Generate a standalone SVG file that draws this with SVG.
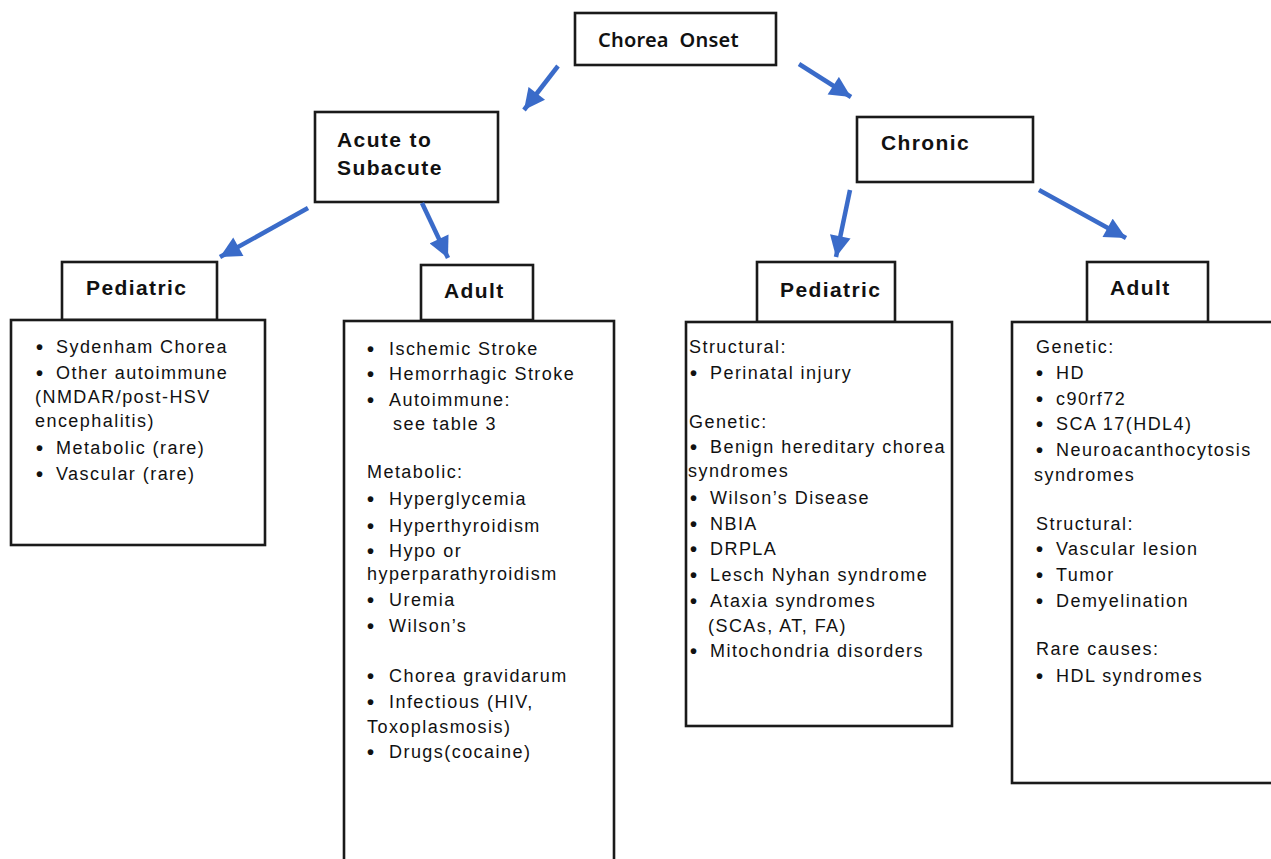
<svg xmlns="http://www.w3.org/2000/svg" width="1271" height="859" viewBox="0 0 1271 859">
<style>
.box{fill:#fff;stroke:#1a1a1a;stroke-width:2.6}
.hd{font-family:"Liberation Sans",Arial,sans-serif;font-weight:bold;font-size:21px;letter-spacing:1.4px;fill:#111}
.tx{font-family:"Liberation Sans",Arial,sans-serif;font-size:18px;letter-spacing:1.45px;fill:#111}
.bl{font-family:"Liberation Sans",Arial,sans-serif;font-size:20px;font-weight:bold;fill:#111}
.top{font-family:"Noto Sans","Liberation Sans",sans-serif;font-weight:600;font-size:20px;letter-spacing:0.2px;fill:#111}
.arr{stroke:#3a6bc9;stroke-width:4.5;fill:none;marker-end:url(#ah)}
</style>
<defs>
<marker id="ah" viewBox="0 0 10 10" refX="10" refY="5" markerWidth="22" markerHeight="21" markerUnits="userSpaceOnUse" orient="auto">
<path d="M0,0 L10,5 L0,10 z" fill="#3a6bc9"/>
</marker>
</defs>
<rect width="1271" height="859" fill="#fff"/>

<g id="onset">
<rect class="box" x="575" y="13" width="201" height="52"/>
<text class="top" x="598" y="47" xml:space="preserve">Chorea  Onset</text>
</g>

<g id="acute">
<rect class="box" x="315" y="112" width="183" height="90"/>
<text class="hd" x="337" y="147">Acute to</text>
<text class="hd" x="337" y="175">Subacute</text>
</g>

<g id="chronic">
<rect class="box" x="857" y="117" width="176" height="65"/>
<text class="hd" x="881" y="150">Chronic</text>
</g>

<g id="acute-pediatric">
<rect class="box" x="62" y="262" width="155" height="58"/>
<text class="hd" x="86" y="295">Pediatric</text>
<rect class="box" x="11" y="320" width="254" height="225"/>
<text class="bl" x="36" y="354">•</text><text class="tx" x="56" y="353">Sydenham Chorea</text>
<text class="bl" x="36" y="380">•</text><text class="tx" x="56" y="379">Other autoimmune</text>
<text class="tx" x="35" y="403">(NMDAR/post-HSV</text>
<text class="tx" x="35" y="427">encephalitis)</text>
<text class="bl" x="36" y="455">•</text><text class="tx" x="56" y="454">Metabolic (rare)</text>
<text class="bl" x="36" y="481">•</text><text class="tx" x="56" y="480">Vascular (rare)</text>
</g>

<g id="acute-adult">
<rect class="box" x="421" y="265" width="112" height="55"/>
<text class="hd" x="444" y="298">Adult</text>
<rect class="box" x="344" y="321" width="270" height="560"/>
<text class="bl" x="367" y="356">•</text><text class="tx" x="389" y="355">Ischemic Stroke</text>
<text class="bl" x="367" y="381">•</text><text class="tx" x="389" y="380">Hemorrhagic Stroke</text>
<text class="bl" x="367" y="407">•</text><text class="tx" x="389" y="406">Autoimmune:</text>
<text class="tx" x="393" y="430">see table 3</text>
<text class="tx" x="367" y="478">Metabolic:</text>
<text class="bl" x="367" y="506">•</text><text class="tx" x="389" y="505">Hyperglycemia</text>
<text class="bl" x="367" y="533">•</text><text class="tx" x="389" y="532">Hyperthyroidism</text>
<text class="bl" x="367" y="558">•</text><text class="tx" x="389" y="557">Hypo or</text>
<text class="tx" x="367" y="580">hyperparathyroidism</text>
<text class="bl" x="367" y="607">•</text><text class="tx" x="389" y="606">Uremia</text>
<text class="bl" x="367" y="633">•</text><text class="tx" x="389" y="632">Wilson’s</text>
<text class="bl" x="367" y="683">•</text><text class="tx" x="389" y="682">Chorea gravidarum</text>
<text class="bl" x="367" y="709">•</text><text class="tx" x="389" y="708">Infectious (HIV,</text>
<text class="tx" x="367" y="733">Toxoplasmosis)</text>
<text class="bl" x="367" y="759">•</text><text class="tx" x="389" y="758">Drugs(cocaine)</text>
</g>

<g id="chronic-pediatric">
<rect class="box" x="757" y="262" width="138" height="60"/>
<text class="hd" x="780" y="297">Pediatric</text>
<rect class="box" x="686" y="322" width="266" height="404"/>
<text class="tx" x="689" y="353">Structural:</text>
<text class="bl" x="690" y="380">•</text><text class="tx" x="710" y="379">Perinatal injury</text>
<text class="tx" x="689" y="428">Genetic:</text>
<text class="bl" x="690" y="454">•</text><text class="tx" x="710" y="453">Benign hereditary chorea</text>
<text class="tx" x="688" y="477">syndromes</text>
<text class="bl" x="690" y="505">•</text><text class="tx" x="710" y="504">Wilson’s Disease</text>
<text class="bl" x="690" y="531">•</text><text class="tx" x="710" y="530">NBIA</text>
<text class="bl" x="690" y="556">•</text><text class="tx" x="710" y="555">DRPLA</text>
<text class="bl" x="690" y="582">•</text><text class="tx" x="710" y="581">Lesch Nyhan syndrome</text>
<text class="bl" x="690" y="608">•</text><text class="tx" x="710" y="607">Ataxia syndromes</text>
<text class="tx" x="708" y="632">(SCAs, AT, FA)</text>
<text class="bl" x="690" y="658">•</text><text class="tx" x="710" y="657">Mitochondria disorders</text>
</g>

<g id="chronic-adult">
<rect class="box" x="1087" y="262" width="121" height="60"/>
<text class="hd" x="1110" y="295">Adult</text>
<rect class="box" x="1012" y="322" width="280" height="461"/>
<text class="tx" x="1036" y="353">Genetic:</text>
<text class="bl" x="1036" y="380">•</text><text class="tx" x="1056" y="379">HD</text>
<text class="bl" x="1036" y="406">•</text><text class="tx" x="1056" y="405">c90rf72</text>
<text class="bl" x="1036" y="431">•</text><text class="tx" x="1056" y="430">SCA 17(HDL4)</text>
<text class="bl" x="1036" y="457">•</text><text class="tx" x="1056" y="456">Neuroacanthocytosis</text>
<text class="tx" x="1034" y="481">syndromes</text>
<text class="tx" x="1036" y="530">Structural:</text>
<text class="bl" x="1036" y="556">•</text><text class="tx" x="1056" y="555">Vascular lesion</text>
<text class="bl" x="1036" y="582">•</text><text class="tx" x="1056" y="581">Tumor</text>
<text class="bl" x="1036" y="608">•</text><text class="tx" x="1056" y="607">Demyelination</text>
<text class="tx" x="1036" y="655">Rare causes:</text>
<text class="bl" x="1036" y="683">•</text><text class="tx" x="1056" y="682">HDL syndromes</text>
</g>

<g id="connectors">
<line class="arr" x1="558" y1="66" x2="524" y2="110"/>
<line class="arr" x1="799" y1="64" x2="851" y2="97"/>
<line class="arr" x1="308" y1="208" x2="220" y2="257"/>
<line class="arr" x1="422" y1="203" x2="448" y2="258"/>
<line class="arr" x1="850" y1="190" x2="836" y2="257"/>
<line class="arr" x1="1039" y1="190" x2="1126" y2="238"/>
</g>
</svg>
